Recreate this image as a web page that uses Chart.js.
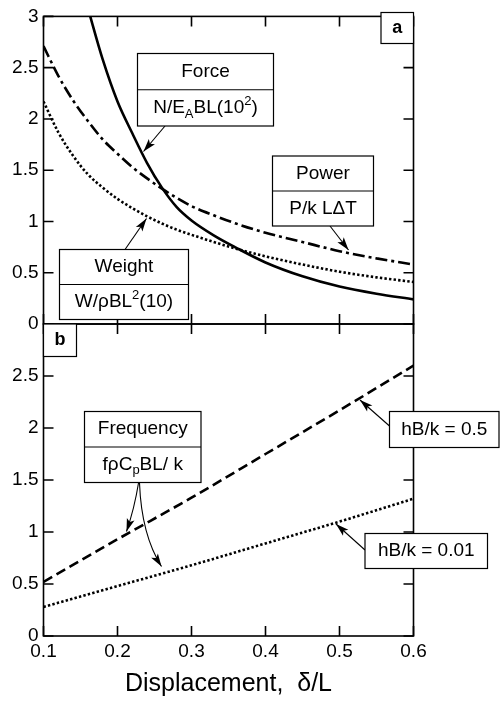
<!DOCTYPE html>
<html lang="en">
<head>
    <meta charset="UTF-8">
    <title>Force, power, weight and frequency vs displacement</title>
    <script src="https://cdn.jsdelivr.net/npm/chart.js"></script>
    <style>
        body {
            margin: 0;
            background: #fff;
        }
        .wrap {
            position: relative;
            width: 504px;
            height: 701px;
        }
        .wrap canvas {
            position: absolute;
            left: 0;
            top: 0;
        }
    </style>
</head>
<body>
    <div class="wrap">
        <canvas id="topChart" width="504" height="701"></canvas>
        <canvas id="bottomChart" width="504" height="701"></canvas>
    </div>
    <script>
        // panel a
        const forceX = [0.16, 0.18, 0.2, 0.22, 0.24, 0.26, 0.28, 0.3, 0.33, 0.36, 0.4, 0.45, 0.5, 0.55, 0.6];
        const forceY = [3.08, 2.58, 2.17, 1.86, 1.57, 1.33, 1.14, 1.01, 0.865, 0.745, 0.6, 0.465, 0.365, 0.295, 0.24];
        const powerX = [0.1, 0.12, 0.14, 0.16, 0.18, 0.2, 0.22, 0.24, 0.26, 0.28, 0.3, 0.33, 0.36, 0.4, 0.45, 0.5, 0.55, 0.6];
        const powerY = [2.71, 2.42, 2.18, 1.98, 1.8, 1.66, 1.53, 1.42, 1.32, 1.23, 1.15, 1.06, 0.98, 0.89, 0.8, 0.71, 0.64, 0.58];
        const weightX = [0.1, 0.12, 0.14, 0.16, 0.18, 0.2, 0.22, 0.24, 0.26, 0.28, 0.3, 0.33, 0.36, 0.4, 0.45, 0.5, 0.55, 0.6];
        const weightY = [2.17, 1.87, 1.64, 1.46, 1.33, 1.22, 1.13, 1.05, 0.98, 0.92, 0.87, 0.8, 0.735, 0.66, 0.58, 0.51, 0.455, 0.41];

        // panel b
        const freqX = [0.1, 0.2, 0.3, 0.4, 0.5, 0.6];
        const freqHigh = [0.52, 0.93, 1.33, 1.75, 2.17, 2.6];   // hB/k = 0.5
        const freqLow = [0.28, 0.48, 0.68, 0.89, 1.1, 1.32];    // hB/k = 0.01

        const xTicks = [0.1, 0.2, 0.3, 0.4, 0.5, 0.6];
        const xLabels = ['0.1', '0.2', '0.3', '0.4', '0.5', '0.6'];
        const yTicks = [0, 0.5, 1, 1.5, 2, 2.5, 3];
        const topYLabels = ['0', '0.5', '1', '1.5', '2', '2.5', '3'];
        const bottomYLabels = ['0', '0.5', '1', '1.5', '2', '2.5', ''];

        const FONT = '"Liberation Sans", Arial, sans-serif';
        const TICK_LEN = 10;

        function pts(xs, ys) {
            return xs.map((x, i) => ({ x: x, y: ys[i] }));
        }

        // text with sub/superscript pieces, centred on cx
        function drawRich(ctx, parts, cx, cy, size) {
            const fontFor = m => (m ? Math.round(size * 0.68) : size) + 'px ' + FONT;
            let w = 0;
            parts.forEach(([t, m]) => {
                ctx.font = fontFor(m);
                w += ctx.measureText(t).width;
            });
            let x = cx - w / 2;
            ctx.textAlign = 'left';
            ctx.textBaseline = 'middle';
            parts.forEach(([t, m]) => {
                ctx.font = fontFor(m);
                const dy = m === 'sub' ? size * 0.32 : m === 'sup' ? -size * 0.36 : 0;
                ctx.fillText(t, x, cy + dy);
                x += ctx.measureText(t).width;
            });
        }

        function drawArrow(ctx, a) {
            ctx.beginPath();
            ctx.moveTo(a.from[0], a.from[1]);
            let ax = a.from[0], ay = a.from[1];
            if (a.ctrl) {
                ctx.quadraticCurveTo(a.ctrl[0], a.ctrl[1], a.to[0], a.to[1]);
                ax = a.ctrl[0];
                ay = a.ctrl[1];
            } else {
                ctx.lineTo(a.to[0], a.to[1]);
            }
            ctx.stroke();
            const ang = Math.atan2(a.to[1] - ay, a.to[0] - ax);
            const L = 13, W = 4;
            const bx = a.to[0] - L * Math.cos(ang), by = a.to[1] - L * Math.sin(ang);
            ctx.beginPath();
            ctx.moveTo(a.to[0], a.to[1]);
            ctx.lineTo(bx + W * Math.sin(ang), by - W * Math.cos(ang));
            ctx.lineTo(bx + 3 * Math.cos(ang), by + 3 * Math.sin(ang));
            ctx.lineTo(bx - W * Math.sin(ang), by + W * Math.cos(ang));
            ctx.closePath();
            ctx.fill();
        }

        function drawBox(ctx, b) {
            ctx.fillStyle = '#fff';
            ctx.fillRect(b.x0, b.y0, b.x1 - b.x0, b.y1 - b.y0);
            ctx.lineWidth = 1.2;
            ctx.strokeRect(b.x0, b.y0, b.x1 - b.x0, b.y1 - b.y0);
            const rowH = (b.y1 - b.y0) / b.rows.length;
            ctx.fillStyle = '#000';
            b.rows.forEach((row, i) => {
                if (i > 0) {
                    ctx.beginPath();
                    ctx.moveTo(b.x0, b.y0 + rowH * i);
                    ctx.lineTo(b.x1, b.y0 + rowH * i);
                    ctx.stroke();
                }
                if (b.bold) {
                    ctx.font = 'bold ' + b.size + 'px ' + FONT;
                    ctx.textAlign = 'center';
                    ctx.textBaseline = 'middle';
                    ctx.fillText(row[0][0], (b.x0 + b.x1) / 2, b.y0 + rowH * (i + 0.5));
                } else {
                    drawRich(ctx, row, (b.x0 + b.x1) / 2, b.y0 + rowH * (i + 0.5), b.size);
                }
            });
        }

        // frame, inward ticks and call-outs
        function makeFrame(notes) {
            return {
                id: 'frame',
                afterDatasetsDraw(chart) {
                    const { ctx, chartArea: a, scales } = chart;
                    ctx.save();
                    ctx.strokeStyle = '#000';
                    ctx.fillStyle = '#000';
                    ctx.lineWidth = 1.6;
                    ctx.strokeRect(a.left, a.top, a.right - a.left, a.bottom - a.top);
                    ctx.beginPath();
                    scales.y.ticks.forEach(t => {
                        const py = scales.y.getPixelForValue(t.value);
                        ctx.moveTo(a.left, py);
                        ctx.lineTo(a.left + TICK_LEN, py);
                        ctx.moveTo(a.right, py);
                        ctx.lineTo(a.right - TICK_LEN, py);
                    });
                    scales.x.ticks.forEach(t => {
                        const px = scales.x.getPixelForValue(t.value);
                        ctx.moveTo(px, a.top);
                        ctx.lineTo(px, a.top + TICK_LEN);
                        ctx.moveTo(px, a.bottom);
                        ctx.lineTo(px, a.bottom - TICK_LEN);
                    });
                    ctx.stroke();

                    ctx.lineWidth = 1.1;
                    notes.arrows.forEach(ar => drawArrow(ctx, ar));
                    notes.boxes.forEach(b => drawBox(ctx, b));
                    ctx.restore();
                }
            };
        }

        const topNotes = {
            boxes: [
                { x0: 381, y0: 12.5, x1: 413.5, y1: 43.5, size: 18, bold: true, rows: [[['a', '']]] },
                { x0: 137.5, y0: 53.5, x1: 273.5, y1: 126, size: 19, rows: [
                    [['Force', '']],
                    [['N/E', ''], ['A', 'sub'], ['BL(10', ''], ['2', 'sup'], [')', '']]
                ] },
                { x0: 272.5, y0: 156, x1: 373.5, y1: 226, size: 19, rows: [
                    [['Power', '']],
                    [['P/k L\u0394T', '']]
                ] },
                { x0: 59.5, y0: 249.5, x1: 188.5, y1: 319.5, size: 19, rows: [
                    [['Weight', '']],
                    [['W/\u03c1BL', ''], ['2', 'sup'], ['(10)', '']]
                ] }
            ],
            arrows: [
                { from: [165, 126], to: [143.5, 151.5] },
                { from: [330, 226], to: [348.5, 250] },
                { from: [125, 249.5], to: [146.5, 218.5] }
            ]
        };

        const bottomNotes = {
            boxes: [
                { x0: 43.5, y0: 324, x1: 76.5, y1: 356.5, size: 18, bold: true, rows: [[['b', '']]] },
                { x0: 84.5, y0: 411.5, x1: 201, y1: 482.5, size: 19, rows: [
                    [['Frequency', '']],
                    [['f\u03c1C', ''], ['p', 'sub'], ['BL/ k', '']]
                ] },
                { x0: 389.5, y0: 411.5, x1: 499, y1: 447.5, size: 19, rows: [[['hB/k = 0.5', '']]] },
                { x0: 365, y0: 533.5, x1: 487.5, y1: 568.5, size: 19, rows: [[['hB/k = 0.01', '']]] }
            ],
            arrows: [
                { from: [138.5, 483], ctrl: [134.5, 508], to: [126.5, 531.5] },
                { from: [139.5, 483], ctrl: [141.5, 535], to: [161.5, 566.5] },
                { from: [389.5, 426], to: [360, 400] },
                { from: [365, 550], to: [336, 524] }
            ]
        };

        function lineSet(data, dash) {
            return {
                data: data,
                borderColor: '#000',
                borderWidth: 2.6,
                borderDash: dash,
                borderCapStyle: 'butt',
                pointRadius: 0,
                fill: false,
                cubicInterpolationMode: 'monotone'
            };
        }

        function xScale(showLabels) {
            return {
                type: 'linear',
                min: 0.1,
                max: 0.6,
                afterBuildTicks: s => { s.ticks = xTicks.map(v => ({ value: v })); },
                afterFit: s => { s.height = showLabels ? 65 : 0; },
                grid: { display: false, drawTicks: false },
                border: { display: false },
                ticks: {
                    display: showLabels,
                    padding: 4,
                    color: '#000',
                    font: { family: FONT, size: 19 },
                    maxRotation: 0,
                    callback: (v, i) => xLabels[i]
                },
                title: {
                    display: showLabels,
                    text: 'Displacement,  \u03b4/L',
                    color: '#000',
                    font: { family: FONT, size: 25 },
                    padding: { top: 0, bottom: 2 }
                }
            };
        }

        function yScale(labels) {
            return {
                type: 'linear',
                min: 0,
                max: 3,
                afterBuildTicks: s => { s.ticks = yTicks.map(v => ({ value: v })); },
                afterFit: s => { s.width = 43.5; },
                grid: { display: false, drawTicks: false },
                border: { display: false },
                ticks: {
                    padding: 5,
                    color: '#000',
                    font: { family: FONT, size: 19 },
                    callback: (v, i) => labels[i]
                }
            };
        }

        const common = {
            responsive: false,
            animation: false,
            events: [],
            plugins: { legend: { display: false }, tooltip: { enabled: false } }
        };

        new Chart(document.getElementById('topChart'), {
            type: 'line',
            data: {
                datasets: [
                    lineSet(pts(forceX, forceY), []),
                    lineSet(pts(powerX, powerY), [12, 4, 3, 4]),
                    lineSet(pts(weightX, weightY), [2.4, 2.2])
                ]
            },
            options: Object.assign({}, common, {
                layout: { padding: { left: 0, right: 90.5, top: 12.5, bottom: 377 } },
                scales: { x: xScale(false), y: yScale(topYLabels) }
            }),
            plugins: [makeFrame(topNotes)]
        });

        new Chart(document.getElementById('bottomChart'), {
            type: 'line',
            data: {
                datasets: [
                    lineSet(pts(freqX, freqHigh), [10, 5]),
                    lineSet(pts(freqX, freqLow), [2.4, 2.2])
                ]
            },
            options: Object.assign({}, common, {
                layout: { padding: { left: 0, right: 90.5, top: 324, bottom: 0 } },
                scales: { x: xScale(true), y: yScale(bottomYLabels) }
            }),
            plugins: [makeFrame(bottomNotes)]
        });
    </script>
</body>
</html>
